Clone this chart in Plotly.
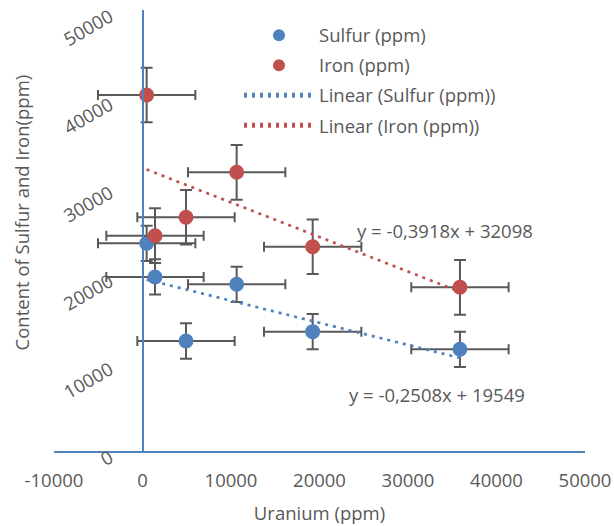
import plotly.graph_objects as go

# ---- data ----
uranium = [470, 1412, 4915, 10640, 19230, 35870]
sulfur = [23550, 19730, 12470, 18900, 13530, 11530]
iron = [40360, 24410, 26500, 31600, 23160, 18560]
x_err = 5500
sulfur_err = 2000
iron_err = 3100
sulfur_fit = (-0.2508, 19549)
iron_fit = (-0.3918, 32098)
x_ticks = [-10000, 0, 10000, 20000, 30000, 40000, 50000]
y_ticks = [0, 10000, 20000, 30000, 40000, 50000]

BLUE = "#4F81BD"
RED = "#C0504D"
GREY = "#595959"
FONT = "Open Sans"
FS = 18.5

xmin, xmax = min(uranium), max(uranium)
fit_x = [xmin, xmax]

fig = go.Figure()
err_style = dict(color=GREY, thickness=2)
fig.add_trace(go.Scatter(
    x=uranium, y=sulfur, mode="markers", name="Sulfur (ppm)",
    marker=dict(color=BLUE, size=15),
    error_x=dict(type="constant", value=x_err, width=5, **err_style),
    error_y=dict(type="constant", value=sulfur_err, width=6, **err_style),
    legendgroup="a"))
fig.add_trace(go.Scatter(
    x=uranium, y=iron, mode="markers", name="Iron (ppm)",
    marker=dict(color=RED, size=15),
    error_x=dict(type="constant", value=x_err, width=5, **err_style),
    error_y=dict(type="constant", value=iron_err, width=6, **err_style),
    legendgroup="b"))
fig.add_trace(go.Scatter(
    x=fit_x, y=[sulfur_fit[0] * v + sulfur_fit[1] for v in fit_x],
    mode="lines", name="Linear (Sulfur (ppm))",
    line=dict(color=BLUE, width=2.7, dash="3px,5px"), legendgroup="c"))
fig.add_trace(go.Scatter(
    x=fit_x, y=[iron_fit[0] * v + iron_fit[1] for v in fit_x],
    mode="lines", name="Linear (Iron (ppm))",
    line=dict(color=RED, width=2.7, dash="3px,5px"), legendgroup="d"))

def eq(fit):
    a, b = fit
    return "y = " + f"{a:.4f}".replace(".", ",") + "x + " + f"{b:d}"

fig.update_layout(
    width=614, height=526,
    margin=dict(l=54, r=29, t=10, b=75, autoexpand=False),
    paper_bgcolor="white", plot_bgcolor="white",
    font=dict(family=FONT, size=FS, color=GREY),
    showlegend=True,
    legend=dict(x=0.3484, y=0.985, xanchor="left", yanchor="top",
                bgcolor="rgba(0,0,0,0)", itemwidth=70, itemsizing="constant",
                traceorder="grouped", tracegroupgap=3,
                font=dict(family=FONT, size=FS, color=GREY)),
    xaxis=dict(range=[-10000, 50000], tickvals=x_ticks,
               ticktext=[str(v) for v in x_ticks],
               showgrid=False, zeroline=False, showline=True,
               linecolor=BLUE, linewidth=1.7, automargin=False,
               ticklabeloverflow="allow",
               ticks="outside", ticklen=12, tickcolor="rgba(0,0,0,0)",
               tickfont=dict(family=FONT, size=FS, color=GREY),
               title=dict(text="Uranium (ppm)", standoff=16,
                          font=dict(family=FONT, size=FS, color=GREY))),
    yaxis=dict(range=[0, 50000], tickvals=y_ticks,
               ticktext=[str(v) for v in y_ticks],
               anchor="free", position=1 / 6, automargin=False,
               ticklabeloverflow="allow", ticklabelshift=5,
               showgrid=False, zeroline=False, showline=True,
               linecolor=BLUE, linewidth=1.7, tickangle=-30,
               tickfont=dict(family=FONT, size=FS, color=GREY),
               ticks="outside", ticklen=28, tickcolor="rgba(0,0,0,0)"),
    annotations=[
        dict(text="Content of Sulfur and Iron(ppm)", xref="paper", yref="paper",
             x=-0.061, y=0.54, textangle=-90, showarrow=False,
             xanchor="center", yanchor="middle",
             font=dict(family=FONT, size=FS, color=GREY)),
        dict(text=eq(iron_fit), xref="paper", yref="paper",
             x=0.736, y=0.501, showarrow=False,
             xanchor="center", yanchor="middle",
             font=dict(family=FONT, size=FS, color=GREY)),
        dict(text=eq(sulfur_fit), xref="paper", yref="paper",
             x=0.722, y=0.127, showarrow=False,
             xanchor="center", yanchor="middle",
             font=dict(family=FONT, size=FS, color=GREY)),
    ],
)

fig.write_html("out.html")
